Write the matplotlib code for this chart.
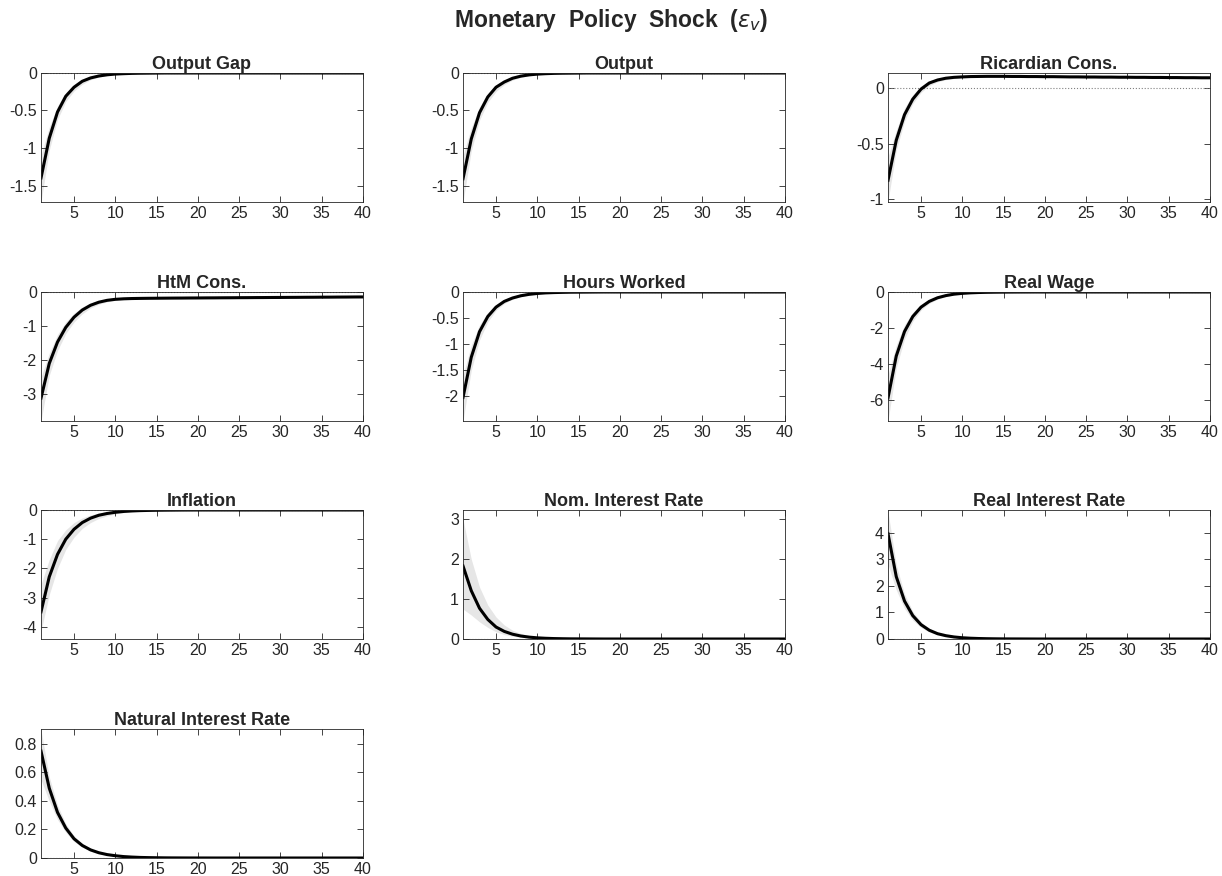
import matplotlib
matplotlib.use("Agg")
import matplotlib.pyplot as plt
from matplotlib.ticker import FuncFormatter

plt.rcParams['font.family'] = ['Liberation Sans', 'DejaVu Sans']
plt.rcParams['axes.unicode_minus'] = False
plt.rcParams['mathtext.fontset'] = 'dejavusans'

periods = list(range(1, 41))

# impulse responses (median) and bands
output_gap = [-1.40, -0.87, -0.52, -0.31, -0.19, -0.11, -0.066, -0.040, -0.024, -0.014,
              -0.009, -0.005, -0.003, -0.002, -0.001, 0, 0, 0, 0, 0,
              0, 0, 0, 0, 0, 0, 0, 0, 0, 0,
              0, 0, 0, 0, 0, 0, 0, 0, 0, 0]
output_gap_hi = [-1.10, -0.72, -0.44, -0.26, -0.15, -0.085, -0.048, -0.027, -0.015, -0.008,
                 -0.004, -0.002, -0.001, 0, 0, 0, 0, 0, 0, 0,
                 0, 0, 0, 0, 0, 0, 0, 0, 0, 0,
                 0, 0, 0, 0, 0, 0, 0, 0, 0, 0]
output_gap_lo = [-1.72, -1.03, -0.62, -0.38, -0.24, -0.15, -0.09, -0.055, -0.034, -0.021,
                 -0.013, -0.008, -0.005, -0.003, -0.002, -0.001, 0, 0, 0, 0,
                 0, 0, 0, 0, 0, 0, 0, 0, 0, 0,
                 0, 0, 0, 0, 0, 0, 0, 0, 0, 0]

output = [-1.41, -0.88, -0.53, -0.32, -0.19, -0.12, -0.070, -0.042, -0.025, -0.015,
          -0.009, -0.005, -0.003, -0.002, -0.001, 0, 0, 0, 0, 0,
          0, 0, 0, 0, 0, 0, 0, 0, 0, 0,
          0, 0, 0, 0, 0, 0, 0, 0, 0, 0]
output_hi = [-1.10, -0.73, -0.45, -0.27, -0.16, -0.09, -0.05, -0.03, -0.017, -0.009,
             -0.005, -0.002, -0.001, 0, 0, 0, 0, 0, 0, 0,
             0, 0, 0, 0, 0, 0, 0, 0, 0, 0,
             0, 0, 0, 0, 0, 0, 0, 0, 0, 0]
output_lo = [-1.72, -1.04, -0.63, -0.39, -0.245, -0.155, -0.095, -0.058, -0.036, -0.022,
             -0.014, -0.008, -0.005, -0.003, -0.002, -0.001, 0, 0, 0, 0,
             0, 0, 0, 0, 0, 0, 0, 0, 0, 0,
             0, 0, 0, 0, 0, 0, 0, 0, 0, 0]

ric_cons = [-0.83, -0.47, -0.24, -0.10, -0.01, 0.045, 0.072, 0.088, 0.096, 0.100,
            0.103, 0.104, 0.105, 0.105, 0.105, 0.104, 0.104, 0.103, 0.103, 0.102,
            0.102, 0.101, 0.100, 0.100, 0.099, 0.099, 0.098, 0.098, 0.097, 0.097,
            0.096, 0.096, 0.095, 0.095, 0.094, 0.094, 0.093, 0.093, 0.092, 0.092]
ric_cons_hi = [-0.62, -0.38, -0.18, -0.06, 0.02, 0.065, 0.087, 0.099, 0.105, 0.108,
               0.110, 0.111, 0.111, 0.111, 0.111, 0.110, 0.110, 0.109, 0.109, 0.108,
               0.108, 0.107, 0.106, 0.106, 0.105, 0.105, 0.104, 0.104, 0.103, 0.103,
               0.102, 0.102, 0.101, 0.101, 0.100, 0.100, 0.099, 0.099, 0.098, 0.098]
ric_cons_lo = [-1.02, -0.56, -0.30, -0.14, -0.04, 0.022, 0.055, 0.075, 0.086, 0.092,
               0.096, 0.097, 0.098, 0.099, 0.099, 0.098, 0.098, 0.097, 0.097, 0.096,
               0.096, 0.095, 0.094, 0.094, 0.093, 0.093, 0.092, 0.092, 0.091, 0.091,
               0.090, 0.090, 0.089, 0.089, 0.088, 0.088, 0.087, 0.087, 0.086, 0.086]

htm_cons = [-3.12, -2.10, -1.47, -1.04, -0.74, -0.53, -0.39, -0.30, -0.245, -0.215,
            -0.200, -0.192, -0.188, -0.185, -0.183, -0.181, -0.179, -0.178, -0.176, -0.175,
            -0.173, -0.172, -0.170, -0.169, -0.167, -0.166, -0.164, -0.163, -0.161, -0.160,
            -0.158, -0.157, -0.155, -0.154, -0.152, -0.151, -0.149, -0.148, -0.146, -0.145]
htm_cons_hi = [-2.50, -1.80, -1.25, -0.88, -0.62, -0.44, -0.32, -0.25, -0.21, -0.19,
               -0.183, -0.180, -0.178, -0.176, -0.174, -0.172, -0.170, -0.169, -0.167, -0.166,
               -0.164, -0.163, -0.161, -0.160, -0.158, -0.157, -0.155, -0.154, -0.152, -0.151,
               -0.149, -0.148, -0.146, -0.145, -0.143, -0.142, -0.140, -0.139, -0.137, -0.136]
htm_cons_lo = [-3.79, -2.45, -1.72, -1.22, -0.88, -0.64, -0.47, -0.36, -0.29, -0.245,
               -0.220, -0.205, -0.198, -0.194, -0.192, -0.190, -0.188, -0.187, -0.185, -0.184,
               -0.182, -0.181, -0.179, -0.178, -0.176, -0.175, -0.173, -0.172, -0.170, -0.169,
               -0.167, -0.166, -0.164, -0.163, -0.161, -0.160, -0.158, -0.157, -0.155, -0.154]

hours = [-2.02, -1.25, -0.76, -0.47, -0.29, -0.18, -0.115, -0.072, -0.045, -0.028,
         -0.017, -0.011, -0.007, -0.004, -0.003, -0.002, -0.001, 0, 0, 0,
         0, 0, 0, 0, 0, 0, 0, 0, 0, 0,
         0, 0, 0, 0, 0, 0, 0, 0, 0, 0]
hours_hi = [-1.60, -1.02, -0.63, -0.39, -0.24, -0.145, -0.09, -0.055, -0.034, -0.020,
            -0.012, -0.007, -0.004, -0.002, -0.001, 0, 0, 0, 0, 0,
            0, 0, 0, 0, 0, 0, 0, 0, 0, 0,
            0, 0, 0, 0, 0, 0, 0, 0, 0, 0]
hours_lo = [-2.47, -1.50, -0.92, -0.57, -0.35, -0.22, -0.14, -0.09, -0.057, -0.036,
            -0.023, -0.015, -0.010, -0.006, -0.004, -0.002, -0.001, 0, 0, 0,
            0, 0, 0, 0, 0, 0, 0, 0, 0, 0,
            0, 0, 0, 0, 0, 0, 0, 0, 0, 0]

real_wage = [-5.87, -3.55, -2.19, -1.36, -0.84, -0.52, -0.32, -0.20, -0.12, -0.075,
             -0.046, -0.028, -0.017, -0.011, -0.007, -0.004, -0.002, -0.001, 0, 0,
             0, 0, 0, 0, 0, 0, 0, 0, 0, 0,
             0, 0, 0, 0, 0, 0, 0, 0, 0, 0]
real_wage_hi = [-4.60, -2.95, -1.82, -1.12, -0.68, -0.41, -0.25, -0.15, -0.09, -0.055,
                -0.033, -0.020, -0.012, -0.007, -0.004, -0.002, -0.001, 0, 0, 0,
                0, 0, 0, 0, 0, 0, 0, 0, 0, 0,
                0, 0, 0, 0, 0, 0, 0, 0, 0, 0]
real_wage_lo = [-7.15, -4.20, -2.60, -1.62, -1.00, -0.63, -0.40, -0.25, -0.155, -0.097,
                -0.060, -0.038, -0.024, -0.015, -0.009, -0.006, -0.004, -0.002, -0.001, 0,
                0, 0, 0, 0, 0, 0, 0, 0, 0, 0,
                0, 0, 0, 0, 0, 0, 0, 0, 0, 0]

inflation = [-3.49, -2.29, -1.52, -1.00, -0.66, -0.43, -0.28, -0.18, -0.12, -0.078,
             -0.050, -0.032, -0.021, -0.014, -0.009, -0.006, -0.004, -0.002, -0.001, 0,
             0, 0, 0, 0, 0, 0, 0, 0, 0, 0,
             0, 0, 0, 0, 0, 0, 0, 0, 0, 0]
inflation_hi = [-2.55, -1.70, -1.05, -0.68, -0.43, -0.27, -0.17, -0.105, -0.065, -0.040,
                -0.025, -0.015, -0.009, -0.005, -0.003, -0.002, -0.001, 0, 0, 0,
                0, 0, 0, 0, 0, 0, 0, 0, 0, 0,
                0, 0, 0, 0, 0, 0, 0, 0, 0, 0]
inflation_lo = [-4.15, -2.90, -2.00, -1.35, -0.93, -0.63, -0.43, -0.29, -0.20, -0.135,
                -0.090, -0.060, -0.040, -0.027, -0.018, -0.012, -0.008, -0.005, -0.003, -0.002,
                -0.001, 0, 0, 0, 0, 0, 0, 0, 0, 0,
                0, 0, 0, 0, 0, 0, 0, 0, 0, 0]

nom_rate = [1.83, 1.21, 0.77, 0.49, 0.30, 0.19, 0.12, 0.075, 0.047, 0.029,
            0.018, 0.011, 0.007, 0.004, 0.003, 0.002, 0.001, 0, 0, 0,
            0, 0, 0, 0, 0, 0, 0, 0, 0, 0,
            0, 0, 0, 0, 0, 0, 0, 0, 0, 0]
nom_rate_hi = [3.00, 2.00, 1.30, 0.85, 0.55, 0.35, 0.22, 0.14, 0.09, 0.055,
               0.034, 0.021, 0.013, 0.008, 0.005, 0.003, 0.002, 0.001, 0, 0,
               0, 0, 0, 0, 0, 0, 0, 0, 0, 0,
               0, 0, 0, 0, 0, 0, 0, 0, 0, 0]
nom_rate_lo = [0.75, 0.60, 0.43, 0.29, 0.18, 0.11, 0.07, 0.043, 0.026, 0.016,
               0.010, 0.006, 0.004, 0.002, 0.001, 0, 0, 0, 0, 0,
               0, 0, 0, 0, 0, 0, 0, 0, 0, 0,
               0, 0, 0, 0, 0, 0, 0, 0, 0, 0]

real_rate = [3.97, 2.35, 1.43, 0.88, 0.54, 0.33, 0.20, 0.125, 0.077, 0.047,
             0.029, 0.018, 0.011, 0.007, 0.004, 0.003, 0.002, 0.001, 0, 0,
             0, 0, 0, 0, 0, 0, 0, 0, 0, 0,
             0, 0, 0, 0, 0, 0, 0, 0, 0, 0]
real_rate_hi = [4.80, 2.80, 1.70, 1.04, 0.64, 0.40, 0.245, 0.15, 0.093, 0.057,
                0.035, 0.022, 0.013, 0.008, 0.005, 0.003, 0.002, 0.001, 0, 0,
                0, 0, 0, 0, 0, 0, 0, 0, 0, 0,
                0, 0, 0, 0, 0, 0, 0, 0, 0, 0]
real_rate_lo = [2.80, 1.85, 1.15, 0.71, 0.43, 0.26, 0.16, 0.098, 0.060, 0.037,
                0.023, 0.014, 0.009, 0.005, 0.003, 0.002, 0.001, 0, 0, 0,
                0, 0, 0, 0, 0, 0, 0, 0, 0, 0,
                0, 0, 0, 0, 0, 0, 0, 0, 0, 0]

nat_rate = [0.75, 0.49, 0.32, 0.21, 0.135, 0.088, 0.057, 0.037, 0.024, 0.016,
            0.010, 0.0065, 0.004, 0.0027, 0.0018, 0.0011, 0.0007, 0.0005, 0.0003, 0.0002,
            0.0001, 0, 0, 0, 0, 0, 0, 0, 0, 0,
            0, 0, 0, 0, 0, 0, 0, 0, 0, 0]
nat_rate_hi = [0.90, 0.57, 0.37, 0.24, 0.155, 0.10, 0.065, 0.042, 0.027, 0.018,
               0.011, 0.007, 0.0045, 0.003, 0.002, 0.0012, 0.0008, 0.0005, 0.0003, 0.0002,
               0.0001, 0, 0, 0, 0, 0, 0, 0, 0, 0,
               0, 0, 0, 0, 0, 0, 0, 0, 0, 0]
nat_rate_lo = [0.55, 0.40, 0.27, 0.18, 0.115, 0.075, 0.048, 0.031, 0.020, 0.013,
               0.0085, 0.0055, 0.0035, 0.0022, 0.0015, 0.001, 0.0006, 0.0004, 0.0002, 0.0001,
               0, 0, 0, 0, 0, 0, 0, 0, 0, 0,
               0, 0, 0, 0, 0, 0, 0, 0, 0, 0]

titles = ['Output Gap', 'Output', 'Ricardian Cons.',
          'HtM Cons.', 'Hours Worked', 'Real Wage',
          'Inflation', 'Nom. Interest Rate', 'Real Interest Rate',
          'Natural Interest Rate']
series = [(output_gap, output_gap_lo, output_gap_hi),
          (output, output_lo, output_hi),
          (ric_cons, ric_cons_lo, ric_cons_hi),
          (htm_cons, htm_cons_lo, htm_cons_hi),
          (hours, hours_lo, hours_hi),
          (real_wage, real_wage_lo, real_wage_hi),
          (inflation, inflation_lo, inflation_hi),
          (nom_rate, nom_rate_lo, nom_rate_hi),
          (real_rate, real_rate_lo, real_rate_hi),
          (nat_rate, nat_rate_lo, nat_rate_hi)]
ylims = [(-1.72, 0), (-1.72, 0), (-1.025, 0.135),
         (-3.79, 0), (-2.47, 0), (-7.15, 0),
         (-4.42, 0), (0, 3.23), (0, 4.86),
         (0, 0.905)]
yticks = [[-1.5, -1, -0.5, 0], [-1.5, -1, -0.5, 0], [-1, -0.5, 0],
          [-3, -2, -1, 0], [-2, -1.5, -1, -0.5, 0], [-6, -4, -2, 0],
          [-4, -3, -2, -1, 0], [0, 1, 2, 3], [0, 1, 2, 3, 4],
          [0, 0.2, 0.4, 0.6, 0.8]]

W, H = 1222, 876
fig = plt.figure(figsize=(W / 100, H / 100), dpi=100)

col_left = [41, 463, 888]
row_top = [73, 292, 510, 729]
ax_w, ax_h = 322, 129
dark = '#262626'

for i, (title, (irf, lo, hi)) in enumerate(zip(titles, series)):
    r, c = divmod(i, 3)
    ax = fig.add_axes([col_left[c] / W, 1 - (row_top[r] + ax_h) / H, ax_w / W, ax_h / H])
    ax.fill_between(periods, lo, hi, color='#e6e6e6', linewidth=0)
    ax.plot([1, 40], [0, 0], ':', color='#808080', linewidth=0.8)
    ax.plot(periods, irf, color='black', linewidth=2.2)
    ax.set_xlim(1, 40)
    ax.set_ylim(*ylims[i])
    ax.set_xticks([5, 10, 15, 20, 25, 30, 35, 40])
    ax.set_yticks(yticks[i])
    ax.yaxis.set_major_formatter(FuncFormatter(lambda v, p: '{:g}'.format(v)))
    ax.tick_params(direction='in', top=True, right=True, length=4, width=0.6,
                   labelsize=11.5, colors=dark, pad=3)
    for s in ax.spines.values():
        s.set_linewidth(0.6)
        s.set_color(dark)
    ax.set_title(title, fontsize=13, fontweight='bold', color=dark, pad=3)

fig.suptitle(r'Monetary  Policy  Shock  ($\epsilon_v$)', fontsize=16.5,
             fontweight='bold', color=dark, y=0.992)

fig.savefig('out.png', dpi=100)
